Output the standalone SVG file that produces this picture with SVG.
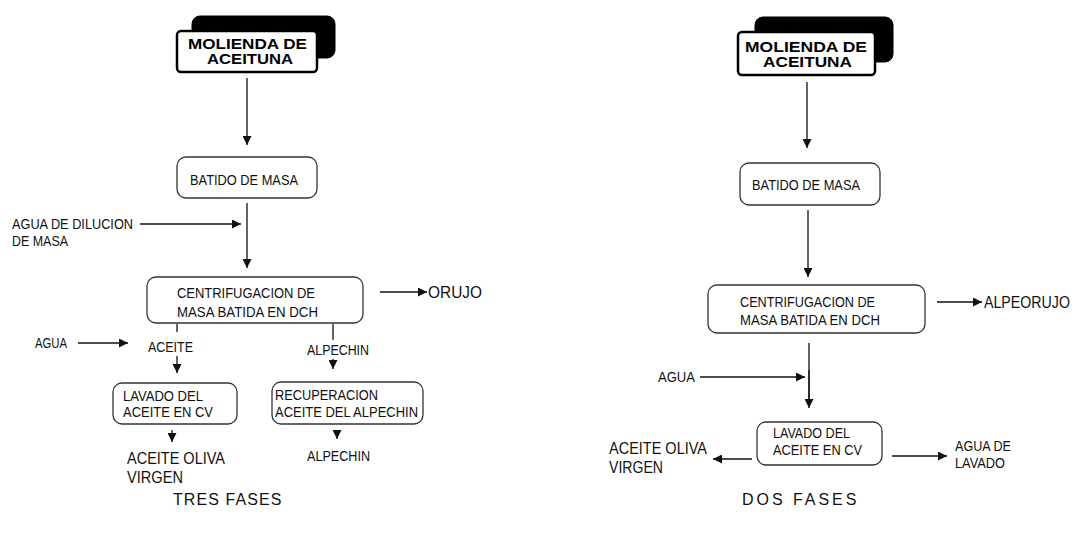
<svg xmlns="http://www.w3.org/2000/svg" width="1085" height="536" viewBox="0 0 1085 536">
<defs>
<marker id="ah" viewBox="0 0 10 10" refX="10" refY="5" markerWidth="9" markerHeight="9" markerUnits="userSpaceOnUse" orient="auto">
<path d="M0,0 L10,5 L0,10 Z" fill="#111"/>
</marker>
<style>
.box{fill:#fff;stroke:#333;stroke-width:1.3}
.mfront{fill:#fff;stroke:#000;stroke-width:2.5}
.mback{fill:#000;stroke:#000}
.t{font-family:"Liberation Sans",Arial,sans-serif;font-size:15.5px;fill:#111}
.tb{font-family:"Liberation Sans",Arial,sans-serif;font-size:15px;font-weight:bold;fill:#000}
.tl{font-family:"Liberation Sans",Arial,sans-serif;font-size:17px;fill:#111}
.tf{font-family:"Liberation Sans",Arial,sans-serif;font-size:16px;fill:#111;letter-spacing:1.6px}
.c{stroke:#111;stroke-width:1.3;fill:none}
.a{stroke:#111;stroke-width:1.3;fill:none;marker-end:url(#ah)}
</style>
</defs>
<rect width="1085" height="536" fill="#fff"/>

<g id="connectors">
<line class="a" x1="247" y1="78" x2="247" y2="145"/>
<line class="a" x1="247" y1="203" x2="247" y2="268"/>
<line class="a" x1="140" y1="224" x2="241" y2="224"/>
<line class="a" x1="380" y1="292" x2="427" y2="292"/>
<line class="c" x1="177" y1="324" x2="177" y2="332"/>
<line class="a" x1="78" y1="343" x2="128" y2="343"/>
<line class="a" x1="177" y1="356" x2="177" y2="373"/>
<line class="c" x1="333" y1="324" x2="333" y2="340"/>
<line class="a" x1="333" y1="359" x2="333" y2="369"/>
<line class="a" x1="172" y1="430" x2="172" y2="442"/>
<line class="a" x1="337" y1="430" x2="337" y2="439"/>

<line class="a" x1="937" y1="302" x2="982" y2="302"/>
<line class="a" x1="807" y1="82" x2="807" y2="148"/>
<line class="a" x1="808" y1="210" x2="808" y2="277"/>
<line class="c" x1="809" y1="343" x2="809" y2="400"/>
<line class="a" x1="809" y1="370" x2="809" y2="408"/>
<line class="a" x1="700" y1="377" x2="805" y2="377"/>
<line class="a" x1="752" y1="459" x2="713" y2="459"/>
<line class="a" x1="892" y1="456" x2="947" y2="456"/>
</g>

<g id="molienda-3f">
<rect class="mback" x="192" y="16" width="143" height="42" rx="8"/>
<rect class="mfront" x="177" y="31" width="140" height="41" rx="4"/>
<text class="tb" x="188" y="49" textLength="119" lengthAdjust="spacingAndGlyphs">MOLIENDA DE</text>
<text class="tb" x="207" y="64" textLength="86" lengthAdjust="spacingAndGlyphs">ACEITUNA</text>
</g>
<g id="batido-3f">
<rect class="box" x="177" y="157" width="140" height="41" rx="9"/>
<text class="t" x="190" y="185" textLength="108" lengthAdjust="spacingAndGlyphs">BATIDO DE MASA</text>
</g>
<g id="agua-dilucion">
<text class="t" x="12" y="229" textLength="121" lengthAdjust="spacingAndGlyphs">AGUA DE DILUCION</text>
<text class="t" x="12" y="246" textLength="56" lengthAdjust="spacingAndGlyphs">DE MASA</text>
</g>
<g id="centrif-3f">
<rect class="box" x="147" y="277" width="216" height="46" rx="9"/>
<text class="t" x="177" y="298" textLength="138" lengthAdjust="spacingAndGlyphs">CENTRIFUGACION DE</text>
<text class="t" x="177" y="317" textLength="141" lengthAdjust="spacingAndGlyphs">MASA BATIDA EN DCH</text>
</g>
<g id="orujo">
<text class="tl" x="428" y="298" textLength="54" lengthAdjust="spacingAndGlyphs">ORUJO</text>
</g>
<g id="agua-3f">
<text class="t" x="35" y="348" textLength="32" lengthAdjust="spacingAndGlyphs">AGUA</text>
</g>
<g id="aceite-3f">
<text class="t" x="148" y="352" textLength="45" lengthAdjust="spacingAndGlyphs">ACEITE</text>
</g>
<g id="alpechin-3f">
<text class="t" x="307" y="355" textLength="62" lengthAdjust="spacingAndGlyphs">ALPECHIN</text>
</g>
<g id="lavado-3f">
<rect class="box" x="113" y="383" width="124" height="41" rx="9"/>
<text class="t" x="123" y="401" textLength="80" lengthAdjust="spacingAndGlyphs">LAVADO DEL</text>
<text class="t" x="123" y="417" textLength="90" lengthAdjust="spacingAndGlyphs">ACEITE EN CV</text>
</g>
<g id="recuperacion-3f">
<rect class="box" x="272" y="382" width="151" height="42" rx="9"/>
<text class="t" x="275" y="400" textLength="103" lengthAdjust="spacingAndGlyphs">RECUPERACION</text>
<text class="t" x="275" y="417" textLength="143" lengthAdjust="spacingAndGlyphs">ACEITE DEL ALPECHIN</text>
</g>
<g id="aceite-oliva-3f">
<text class="tl" x="127" y="464" textLength="98" lengthAdjust="spacingAndGlyphs">ACEITE OLIVA</text>
<text class="tl" x="127" y="483" textLength="56" lengthAdjust="spacingAndGlyphs">VIRGEN</text>
</g>
<g id="alpechin-out-3f">
<text class="t" x="307" y="461" textLength="63" lengthAdjust="spacingAndGlyphs">ALPECHIN</text>
</g>
<g id="title-3f">
<text class="tf" x="173" y="505" textLength="110">TRES FASES</text>
</g>

<g id="molienda-2f">
<rect class="mback" x="755" y="17" width="138" height="45" rx="8"/>
<rect class="mfront" x="738" y="32" width="137" height="43" rx="4"/>
<text class="tb" x="745" y="52" textLength="122" lengthAdjust="spacingAndGlyphs">MOLIENDA DE</text>
<text class="tb" x="763" y="67" textLength="89" lengthAdjust="spacingAndGlyphs">ACEITUNA</text>
</g>
<g id="batido-2f">
<rect class="box" x="740" y="163" width="140" height="42" rx="9"/>
<text class="t" x="752" y="190" textLength="108" lengthAdjust="spacingAndGlyphs">BATIDO DE MASA</text>
</g>
<g id="centrif-2f">
<rect class="box" x="708" y="285" width="217" height="48" rx="9"/>
<text class="t" x="740" y="307" textLength="135" lengthAdjust="spacingAndGlyphs">CENTRIFUGACION DE</text>
<text class="t" x="740" y="325" textLength="140" lengthAdjust="spacingAndGlyphs">MASA BATIDA EN DCH</text>
</g>
<g id="alpeorujo">
<text class="tl" x="984" y="308" textLength="86" lengthAdjust="spacingAndGlyphs">ALPEORUJO</text>
</g>
<g id="agua-2f">
<text class="t" x="658" y="382" textLength="37" lengthAdjust="spacingAndGlyphs">AGUA</text>
</g>
<g id="lavado-2f">
<rect class="box" x="757" y="422" width="125" height="43" rx="9"/>
<text class="t" x="773" y="438" textLength="77" lengthAdjust="spacingAndGlyphs">LAVADO DEL</text>
<text class="t" x="773" y="455" textLength="89" lengthAdjust="spacingAndGlyphs">ACEITE EN CV</text>
</g>
<g id="aceite-oliva-2f">
<text class="tl" x="609" y="454" textLength="98" lengthAdjust="spacingAndGlyphs">ACEITE OLIVA</text>
<text class="tl" x="609" y="473" textLength="54" lengthAdjust="spacingAndGlyphs">VIRGEN</text>
</g>
<g id="agua-lavado">
<text class="t" x="955" y="451" textLength="56" lengthAdjust="spacingAndGlyphs">AGUA DE</text>
<text class="t" x="955" y="468" textLength="50" lengthAdjust="spacingAndGlyphs">LAVADO</text>
</g>
<g id="title-2f">
<text class="tf" x="742" y="505" textLength="116">DOS FASES</text>
</g>
</svg>
